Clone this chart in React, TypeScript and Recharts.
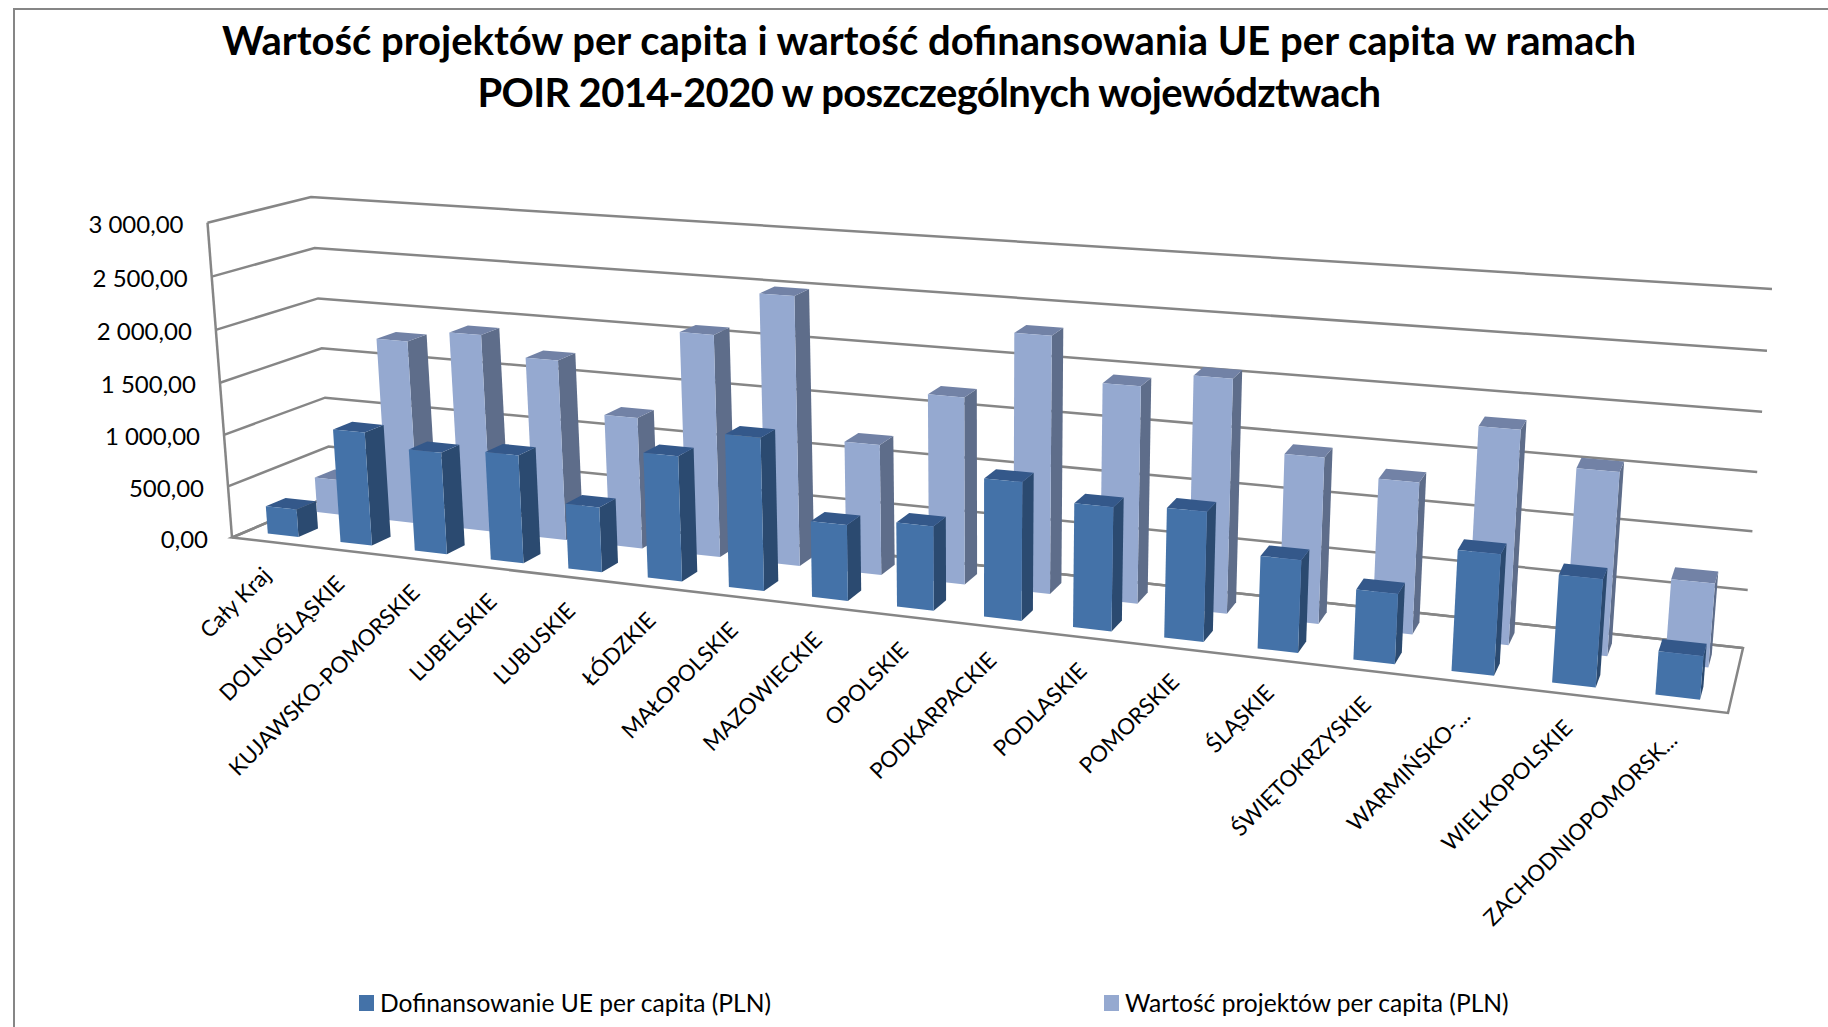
import { Bar, BarChart, CartesianGrid, Legend, XAxis, YAxis } from "recharts";

const categories = [
  "Cały Kraj", "DOLNOŚLĄSKIE", "KUJAWSKO-POMORSKIE", "LUBELSKIE", "LUBUSKIE", "ŁÓDZKIE",
  "MAŁOPOLSKIE", "MAZOWIECKIE", "OPOLSKIE", "PODKARPACKIE", "PODLASKIE", "POMORSKIE",
  "ŚLĄSKIE", "ŚWIĘTOKRZYSKIE", "WARMIŃSKO-...", "WIELKOPOLSKIE", "ZACHODNIOPOMORSK...",
];
const dofinansowanie = [270, 1090, 970, 1020, 610, 1160, 1400, 690, 760, 1230, 1090, 1130, 800, 600, 1020, 900, 360];
const wartosc = [350, 1790, 1910, 1730, 1250, 2090, 2500, 1210, 1710, 2320, 1940, 2070, 1460, 1320, 1840, 1560, 710];
const yTicks = [0, 500, 1000, 1500, 2000, 2500, 3000];

const data = categories.map((name, i) => ({ name, dofinansowanie: dofinansowanie[i], wartosc: wartosc[i] }));

const WIDTH = 1828;
const HEIGHT = 1027;
const PLOT = { left: 200, top: 200, width: 1400, height: 600 };

type Pt = [number, number];

// square -> quad homography, corners order: (0,0) (1,0) (1,1) (0,1)
function quad(p0: Pt, p1: Pt, p2: Pt, p3: Pt) {
  const dx1 = p1[0] - p2[0], dx2 = p3[0] - p2[0], sx = p0[0] - p1[0] + p2[0] - p3[0];
  const dy1 = p1[1] - p2[1], dy2 = p3[1] - p2[1], sy = p0[1] - p1[1] + p2[1] - p3[1];
  const det = dx1 * dy2 - dx2 * dy1;
  const g = (sx * dy2 - dx2 * sy) / det;
  const h = (dx1 * sy - sx * dy1) / det;
  const a = p1[0] - p0[0] + g * p1[0], b = p3[0] - p0[0] + h * p3[0], c = p0[0];
  const d = p1[1] - p0[1] + g * p1[1], e = p3[1] - p0[1] + h * p3[1], f = p0[1];
  return (u: number, v: number): Pt => {
    const k = g * u + h * v + 1;
    return [(a * u + b * v + c) / k, (d * u + e * v + f) / k];
  };
}

// wall corners: u along categories, v up the value axis
const frontPlane = quad([232, 537.5], [1728, 713], [1759, 333], [207.5, 222.7]);
const backPlane = quad([332, 495], [1743, 648], [1772, 289], [311, 197]);

function project(px: number, py: number, w: number): Pt {
  const u = (px - PLOT.left) / PLOT.width;
  const v = 1 - (py - PLOT.top) / PLOT.height;
  const f = frontPlane(u, v);
  const b = backPlane(u, v);
  return [f[0] + (b[0] - f[0]) * w, f[1] + (b[1] - f[1]) * w];
}

const pts = (list: Pt[]) => list.map((p) => `${p[0].toFixed(1)},${p[1].toFixed(1)}`).join(" ");

const GRID = "#868686";
const FONT = "Lato, sans-serif";

function box3d(w0: number, w1: number, front: string, top: string, side: string) {
  return (props: any) => {
    const { x, y, width, height } = props;
    const x2 = x + width;
    const base = y + height;
    return (
      <g>
        <polygon points={pts([project(x2, base, w0), project(x2, base, w1), project(x2, y, w1), project(x2, y, w0)])} fill={side} />
        <polygon points={pts([project(x, y, w0), project(x2, y, w0), project(x2, y, w1), project(x, y, w1)])} fill={top} />
        <polygon points={pts([project(x, base, w0), project(x2, base, w0), project(x2, y, w0), project(x, y, w0)])} fill={front} />
      </g>
    );
  };
}

function gridLine(props: any) {
  const { x1, x2, y1, index } = props;
  const a = project(x1, y1, 0);
  const b = project(x1, y1, 1);
  const c = project(x2, y1, 1);
  const isFloor = Math.abs(y1 - (PLOT.top + PLOT.height)) < 0.5;
  const isTop = Math.abs(y1 - PLOT.top) < 0.5;
  return (
    <g key={`wall-${index}-${y1}`}>
      <polyline points={pts([a, b, c])} fill="none" stroke={GRID} strokeWidth={2.5} />
      {isFloor && (
        <polygon points={pts([a, project(x2, y1, 0), c, b])} fill="none" stroke={GRID} strokeWidth={2.5} />
      )}
      {isTop && (
        <line x1={a[0]} y1={a[1]} x2={project(x1, PLOT.top + PLOT.height, 0)[0]} y2={project(x1, PLOT.top + PLOT.height, 0)[1]} stroke={GRID} strokeWidth={2.5} />
      )}
    </g>
  );
}

const formatPl = (n: number) => {
  const [whole, frac] = n.toFixed(2).split(".");
  return `${whole.replace(/\B(?=(\d{3})+$)/g, " ")},${frac}`;
};

function YTick(props: any) {
  const { y, payload } = props;
  const p = project(PLOT.left, y, 0);
  return (
    <text x={p[0] - 24} y={p[1] + 1} textAnchor="end" dominantBaseline="central" fontFamily={FONT} fontSize={24} fill="#000">
      {formatPl(payload.value)}
    </text>
  );
}

function XTick(props: any) {
  const { x, payload } = props;
  const p = project(x, PLOT.top + PLOT.height, 0);
  const tx = p[0] - 2;
  const ty = p[1] + 29;
  return (
    <text x={tx} y={ty} textAnchor="end" dominantBaseline="central" fontFamily={FONT} fontSize={22.3} fill="#000" transform={`rotate(-45 ${tx} ${ty})`}>
      {payload.value}
    </text>
  );
}

function LegendRow({ payload }: any) {
  const items = [...(payload ?? [])];
  const starts = [359, 1104];
  return (
    <div style={{ position: "relative", height: 40 }}>
      {items.map((item: any, i: number) => (
        <div key={item.value} style={{ position: "absolute", left: starts[i], top: 0, display: "flex", alignItems: "center", fontFamily: FONT, fontSize: 24.6, color: "#000", whiteSpace: "nowrap" }}>
          <span style={{ width: 15, height: 16, background: item.color, marginRight: 6, display: "inline-block" }} />
          {item.value}
        </div>
      ))}
    </div>
  );
}

export default function App() {
  return (
    <div style={{ position: "absolute", left: 0, top: 0, width: WIDTH, height: HEIGHT, background: "#fff", overflow: "hidden" }}>
      <div style={{ position: "absolute", left: 13, top: 8, right: 0, bottom: 0, borderTop: `2px solid ${GRID}`, borderLeft: `2px solid ${GRID}` }} />
      <div style={{ position: "absolute", left: 0, width: 1858, top: 14, textAlign: "center", fontFamily: FONT, fontWeight: 700, fontSize: 40, lineHeight: "52px", color: "#000" }}>
        Wartość projektów per capita i wartość dofinansowania UE per capita w ramach
        <br />
        <span style={{ letterSpacing: "-0.65px" }}>POIR 2014-2020 w poszczególnych województwach</span>
      </div>
      <BarChart
        width={WIDTH}
        height={HEIGHT}
        data={data}
        barCategoryGap="29%"
        margin={{ top: PLOT.top, left: 100, right: WIDTH - PLOT.left - PLOT.width, bottom: 87 }}
        style={{ position: "absolute", left: 0, top: 0 }}
      >
        <CartesianGrid vertical={false} horizontal={gridLine} />
        <XAxis dataKey="name" height={100} axisLine={false} tickLine={false} interval={0} tick={<XTick />} />
        <XAxis dataKey="name" xAxisId="back" hide />
        <YAxis domain={[0, 3000]} ticks={yTicks} width={100} axisLine={false} tickLine={false} tick={<YTick />} />
        <YAxis domain={[0, 3000]} yAxisId="back" hide />
        <Legend
          verticalAlign="bottom"
          content={<LegendRow />}
          wrapperStyle={{ position: "absolute", left: 0, top: 988, width: WIDTH, height: 40 }}
        />
        <Bar
          dataKey="wartosc"
          name="Wartość projektów per capita (PLN)"
          xAxisId="back"
          yAxisId="back"
          fill="#95A9D0"
          isAnimationActive={false}
          shape={box3d(0.65, 0.85, "#95A9D0", "#7282A6", "#5E6D8A")}
        />
        <Bar
          dataKey="dofinansowanie"
          name="Dofinansowanie UE per capita (PLN)"
          fill="#4472A8"
          isAnimationActive={false}
          shape={box3d(0.15, 0.35, "#4472A8", "#34588A", "#2B4A70")}
        />
      </BarChart>
    </div>
  );
}
